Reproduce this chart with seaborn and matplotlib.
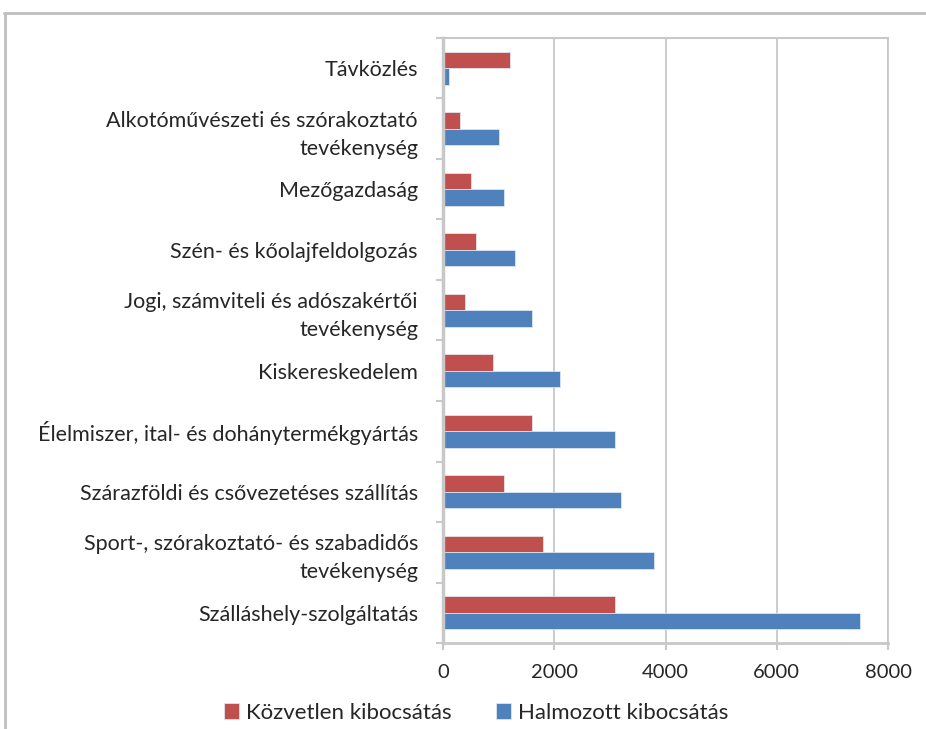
import pandas as pd
import matplotlib
matplotlib.use("Agg")
import matplotlib.pyplot as plt
import seaborn as sns
from matplotlib.lines import Line2D

# Data
categories = [
    "Távközlés",
    "Alkotóművészeti és szórakoztató\ntevékenység",
    "Mezőgazdaság",
    "Szén- és kőolajfeldolgozás",
    "Jogi, számviteli és adószakértői\ntevékenység",
    "Kiskereskedelem",
    "Élelmiszer, ital- és dohánytermékgyártás",
    "Szárazföldi és csővezetéses szállítás",
    "Sport-, szórakoztató- és szabadidős\ntevékenység",
    "Szálláshely-szolgáltatás",
]
direct = [1200, 300, 500, 600, 400, 900, 1600, 1100, 1800, 3100]
cumulative = [100, 1000, 1100, 1300, 1600, 2100, 3100, 3200, 3800, 7500]
series_names = ["Közvetlen kibocsátás", "Halmozott kibocsátás"]
x_ticks = [0, 2000, 4000, 6000, 8000]

rows = []
for cat, d, c in zip(categories, direct, cumulative):
    rows.append([cat, d, series_names[0]])
    rows.append([cat, c, series_names[1]])
df = pd.DataFrame(rows, columns=["Category", "Value", "Series"])

sns.set_style("white")
plt.rcParams["font.family"] = ["Lato", "DejaVu Sans"]

grid_gray = "#C8C8C8"
fig = plt.figure(figsize=(9.26, 7.29), dpi=100)
ax = fig.add_axes([443 / 926, 1 - 643 / 729, (888 - 443) / 926, (643 - 38) / 729])

sns.barplot(data=df, x="Value", y="Category", hue="Series", order=categories,
            hue_order=series_names, palette=["#C0504D", "#4F81BD"], saturation=1,
            width=0.54, orient="h", ax=ax, edgecolor="#E6EEF7", linewidth=0.5,
            legend=True)

ax.set_xlim(0, 8000)
ax.set_xticks(x_ticks)
ax.set_xticklabels([str(t) for t in x_ticks])
ax.set_xlabel("")
ax.set_ylabel("")
ax.set_axisbelow(True)
ax.xaxis.grid(True, color=grid_gray, linewidth=1.3)

# category boundary ticks on the left axis
ax.set_yticks([i + 0.5 for i in range(-1, len(categories))], minor=True)
ax.tick_params(axis="y", which="major", length=0, pad=18, labelsize=15.5)
ax.tick_params(axis="y", which="minor", length=5, width=1.5, color=grid_gray,
               direction="out", left=True)
ax.tick_params(axis="x", length=5, width=1.5, color=grid_gray, direction="out",
               bottom=True, pad=10, labelsize=14.5)
for lbl in ax.get_yticklabels():
    lbl.set_linespacing(1.5)

for side in ["left", "bottom", "top", "right"]:
    ax.spines[side].set_color(grid_gray)
ax.spines["left"].set_linewidth(2.5)
ax.spines["bottom"].set_linewidth(2)
ax.spines["top"].set_linewidth(1.5)
ax.spines["right"].set_linewidth(1.3)

handles, labels = ax.get_legend_handles_labels()
ax.get_legend().remove()
fig.legend(handles, labels, loc="center", bbox_to_anchor=(476 / 926, 1 - 713 / 729),
           ncol=2, frameon=False, fontsize=16, handlelength=0.7, handleheight=0.7,
           columnspacing=2.0, handletextpad=0.3)

# outer chart border
fig.add_artist(Line2D([4 / 926, 1.0], [1 - 13 / 729] * 2, color="#BFBFBF", linewidth=2,
                      transform=fig.transFigure))
fig.add_artist(Line2D([5 / 926] * 2, [1 - 13 / 729, 0.0], color="#BFBFBF", linewidth=2,
                      transform=fig.transFigure))

fig.savefig("out.png", dpi=100)
